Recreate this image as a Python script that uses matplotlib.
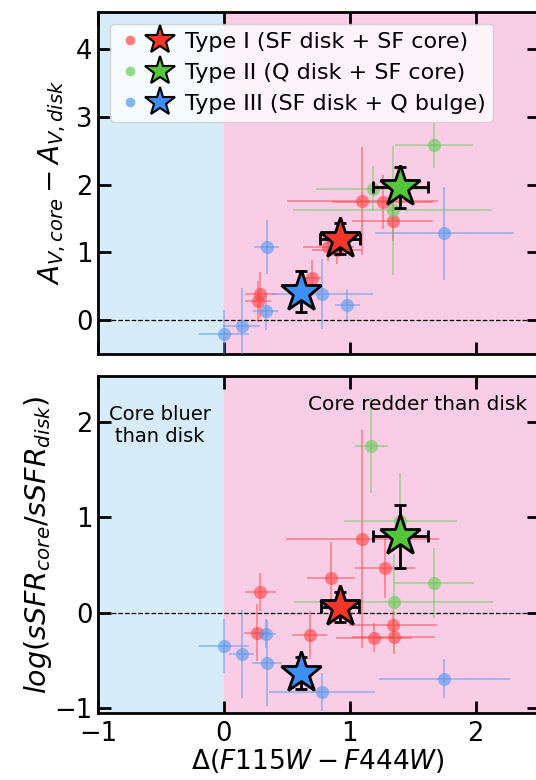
import matplotlib.pyplot as plt
from matplotlib.legend_handler import HandlerTuple
from matplotlib.lines import Line2D

# ---- data: top panel (A_V core - A_V disk) ----
t1_x = [0.29, 0.27, 0.70, 0.83, 0.90, 1.10, 1.26, 1.34]
t1_y = [0.38, 0.28, 0.62, 1.08, 1.03, 1.76, 1.74, 1.47]
t1_xe = [0.12, 0.10, 0.07, 0.20, 0.20, 0.60, 0.40, 0.32]
t1_ye = [0.33, 0.30, 0.27, 0.20, 0.20, 0.80, 0.40, 0.30]

t2_x = [1.67, 1.18, 1.34]
t2_y = [2.58, 1.94, 1.62]
t2_xe = [0.31, 0.45, 0.79]
t2_ye = [0.33, 0.33, 0.95]

t3_x = [0.00, 0.14, 0.33, 0.34, 0.78, 0.98, 1.75]
t3_y = [-0.20, -0.08, 0.13, 1.08, 0.39, 0.23, 1.28]
t3_xe = [0.20, 0.15, 0.10, 0.10, 0.40, 0.10, 0.55]
t3_ye = [0.35, 0.56, 0.27, 0.40, 0.52, 0.23, 0.68]

# median (stars) top panel: x, y, xerr, yerr
star_top = {
    'I': (0.92, 1.20, 0.16, 0.23),
    'II': (1.40, 1.96, 0.22, 0.30),
    'III': (0.61, 0.42, 0.04, 0.30),
}

# ---- data: bottom panel (log sSFR ratio) ----
b1_x = [0.29, 0.26, 0.68, 0.85, 1.10, 1.28, 1.19, 1.34, 1.35]
b1_y = [0.22, -0.21, -0.23, 0.36, 0.77, 0.47, -0.26, -0.13, -0.25]
b1_xe = [0.12, 0.10, 0.14, 0.19, 0.61, 0.24, 0.30, 0.35, 0.33]
b1_ye = [0.20, 0.30, 0.25, 0.38, 1.14, 0.32, 0.15, 0.15, 0.18]

b2_x = [1.17, 1.67, 1.35, 1.40]
b2_y = [1.75, 0.31, 0.11, 0.96]
b2_xe = [0.13, 0.32, 0.79, 0.45]
b2_ye = [0.50, 0.37, 0.50, 0.50]

b3_x = [0.00, 0.14, 0.33, 0.34, 0.78, 1.75]
b3_y = [-0.35, -0.43, -0.22, -0.53, -0.83, -0.69]
b3_xe = [0.20, 0.10, 0.08, 0.12, 0.42, 0.52]
b3_ye = [0.28, 0.46, 0.15, 0.45, 0.20, 0.20]

star_bot = {
    'I': (0.92, 0.06, 0.15, 0.16),
    'II': (1.40, 0.80, 0.22, 0.33),
    'III': (0.61, -0.63, 0.04, 0.17),
}

labels = {'I': 'Type I (SF disk + SF core)',
          'II': 'Type II (Q disk + SF core)',
          'III': 'Type III (SF disk + Q bulge)'}
colors = {'I': '#f5352a', 'II': '#55c63c', 'III': '#3d8ef5'}
pt_colors = {'I': '#ff4545', 'II': '#66cc55', 'III': '#5599f0'}

blue_bg = '#d6ecfa'
pink_bg = '#facde6'

plt.rcParams['font.family'] = 'DejaVu Sans'
plt.rcParams['mathtext.fontset'] = 'dejavusans'

fig = plt.figure(figsize=(5.36, 7.8), dpi=100)
ax1 = fig.add_axes([0.183, 0.546, 0.822, 0.439])
ax2 = fig.add_axes([0.183, 0.086, 0.822, 0.432])


def draw_points(ax, groups, stars):
    for key, (x, y, xe, ye) in groups.items():
        ax.errorbar(x, y, xerr=xe, yerr=ye, fmt='o', ms=9.5, color=pt_colors[key],
                    mec='none', alpha=0.62, elinewidth=1.1, capsize=0, zorder=3)
    for key, (x, y, xe, ye) in stars.items():
        ax.errorbar([x], [y], xerr=[xe], yerr=[ye], fmt='*', ms=31,
                    mfc=colors[key], mec='black', mew=2, ecolor='black',
                    elinewidth=2, capsize=4, capthick=2, zorder=5)


for ax in (ax1, ax2):
    ax.axvspan(-1.5, 0, color=blue_bg, zorder=0, lw=0)
    ax.axvspan(0, 3, color=pink_bg, zorder=0, lw=0)
    ax.axhline(0, color='black', ls='--', lw=0.9, zorder=2)
    ax.set_xlim(-1, 2.5)
    ax.set_xticks([-1, 0, 1, 2])
    ax.tick_params(direction='in', length=9, width=2, labelsize=18.5,
                   top=True, right=True, pad=4)
    ax.tick_params(axis='x', pad=6)
    for s in ax.spines.values():
        s.set_linewidth(2)

top_groups = {'I': (t1_x, t1_y, t1_xe, t1_ye),
              'II': (t2_x, t2_y, t2_xe, t2_ye),
              'III': (t3_x, t3_y, t3_xe, t3_ye)}
bot_groups = {'I': (b1_x, b1_y, b1_xe, b1_ye),
              'II': (b2_x, b2_y, b2_xe, b2_ye),
              'III': (b3_x, b3_y, b3_xe, b3_ye)}

draw_points(ax1, top_groups, star_top)
draw_points(ax2, bot_groups, star_bot)

ax1.set_ylim(-0.5, 4.55)
ax1.set_yticks([0, 1, 2, 3, 4])
ax1.tick_params(labelbottom=False)
ax1.set_ylabel(r'$A_{V,core} - A_{V,disk}$', fontsize=20, labelpad=6)

ax2.set_ylim(-1.05, 2.48)
ax2.set_yticks([-1, 0, 1, 2])
ax2.set_ylabel(r'$log(sSFR_{core}/sSFR_{disk})$', fontsize=20.5, labelpad=0)
ax2.set_xlabel(r'$\Delta(F115W - F444W)$', fontsize=19, labelpad=0)

ax2.text(-0.51, 1.96, 'Core bluer\nthan disk', ha='center', va='center',
         fontsize=14, linespacing=1.15)
ax2.text(1.54, 2.18, 'Core redder than disk', ha='center', va='center',
         fontsize=14.5)

# legend: small dot + star for each type
leg_handles = []
for key in ('I', 'II', 'III'):
    dot = Line2D([], [], ls='none', marker='o', ms=7, color=pt_colors[key],
                 alpha=0.7, mec='none')
    star = Line2D([], [], ls='none', marker='*', ms=22, mfc=colors[key],
                  mec='black', mew=1.5)
    leg_handles.append((dot, star))
ax1.legend(leg_handles, [labels[k] for k in ('I', 'II', 'III')],
           handler_map={tuple: HandlerTuple(ndivide=None, pad=0.3)},
           loc='upper left', fontsize=16, handlelength=2.4,
           handletextpad=0.6, labelspacing=0.5, borderpad=0.35,
           framealpha=0.8, borderaxespad=0.55)

fig.savefig('out.png', dpi=100)
